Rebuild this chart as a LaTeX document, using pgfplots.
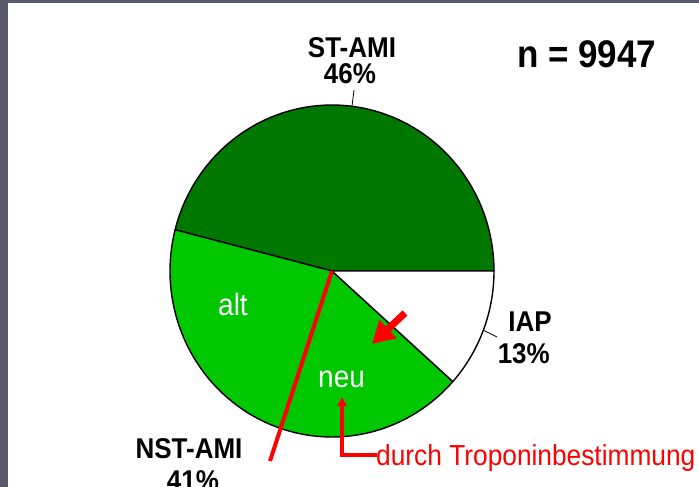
\documentclass[border=0pt]{standalone}
\usepackage{pgfplots}
\pgfplotsset{compat=1.18}
\usepackage{fontspec}
\setmainfont{Liberation Sans}
\usetikzlibrary{arrows.meta}
\definecolor{darkgreen}{RGB}{0,120,0}
\definecolor{lightgreen}{RGB}{0,200,0}
\definecolor{slide}{RGB}{88,90,108}
\definecolor{redline}{RGB}{255,0,0}
% shares (percent)
\def\pST{46}
\def\pNST{42.4}
\def\pIAP{11.6}
\newcommand{\lab}[2]{\scalebox{1}[1.1]{\fontsize{#1}{#1}\selectfont #2}}
\begin{document}
\begin{tikzpicture}
\begin{axis}[
  width=699pt, height=487pt, scale only axis,
  xmin=0, xmax=699, ymin=0, ymax=487, y dir=reverse,
  hide axis, clip=false,
]
\fill[slide] (axis cs:0,0) rectangle (axis cs:699,487);
\fill[white] (axis cs:8,3) rectangle (axis cs:699,487);
\coordinate (BL) at (axis cs:0,487);
\coordinate (TR) at (axis cs:699,0);
\pgfmathsetmacro{\aA}{0}
\pgfmathsetmacro{\aB}{\aA+3.6*\pST}
\pgfmathsetmacro{\aC}{\aB+3.6*\pNST}
\pgfmathsetmacro{\aD}{\aC+3.6*\pIAP}
% ST-AMI
\addplot[fill=darkgreen, draw=black, line width=1.4pt, line join=round, samples at={-1,0,1,...,80,81}, variable=\t]
  ({(\t<0 || \t>80) ? 332 : 332+162*cos(\aA+(\aB-\aA)*\t/80)},
   {(\t<0 || \t>80) ? 271 : 271-166*sin(\aA+(\aB-\aA)*\t/80)});
% NST-AMI
\addplot[fill=lightgreen, draw=black, line width=1.4pt, line join=round, samples at={-1,0,1,...,80,81}, variable=\t]
  ({(\t<0 || \t>80) ? 332 : 332+162*cos(\aB+(\aC-\aB)*\t/80)},
   {(\t<0 || \t>80) ? 271 : 271-166*sin(\aB+(\aC-\aB)*\t/80)});
% IAP
\addplot[fill=white, draw=black, line width=1.4pt, line join=round, samples at={-1,0,1,...,80,81}, variable=\t]
  ({(\t<0 || \t>80) ? 332 : 332+162*cos(\aC+(\aD-\aC)*\t/80)},
   {(\t<0 || \t>80) ? 271 : 271-166*sin(\aC+(\aD-\aC)*\t/80)});
% leader lines
\draw[black, line width=0.8pt] (axis cs:354,90) -- (axis cs:352,106);
\draw[black, line width=0.8pt] (axis cs:483,330) -- (axis cs:497,337);
% red annotations
\draw[redline, line width=4pt] (axis cs:332,271) -- (axis cs:270,461);
\draw[redline, line width=3.5pt, -{Triangle[length=9pt,width=9pt]}] (axis cs:377,455) -- (axis cs:342,455) -- (axis cs:342,397);
\draw[redline, line width=7pt, -{Triangle[length=22pt,width=24pt]}] (axis cs:405,313) -- (axis cs:372,344);
% labels
\node[anchor=base, font=\bfseries] at (axis cs:352,58) {\lab{26}{ST-AMI}};
\node[anchor=base, font=\bfseries] at (axis cs:350,84) {\lab{26}{46\%}};
\node[anchor=base west, font=\bfseries, inner sep=0pt] at (axis cs:517,68) {\lab{35}{n = 9947}};
\node[anchor=base east, font=\bfseries, inner sep=0pt] at (axis cs:552,331) {\lab{26}{IAP}};
\node[anchor=base east, font=\bfseries, inner sep=0pt] at (axis cs:550,363) {\lab{26}{13\%}};
\node[anchor=base, font=\bfseries] at (axis cs:189,458) {\lab{26}{NST-AMI}};
\node[anchor=base, font=\bfseries] at (axis cs:193,490) {\lab{26}{41\%}};
\node[anchor=base west, text=redline, inner sep=0pt] at (axis cs:376,465) {\lab{26.3}{durch Troponinbestimmung}};
\node[anchor=base west, text=white, inner sep=0pt] at (axis cs:218,315) {\lab{28}{alt}};
\node[anchor=base west, text=white, inner sep=0pt] at (axis cs:318,387) {\lab{28}{neu}};
\end{axis}
\pgfresetboundingbox
\useasboundingbox (BL) rectangle (TR);
\end{tikzpicture}
\end{document}
